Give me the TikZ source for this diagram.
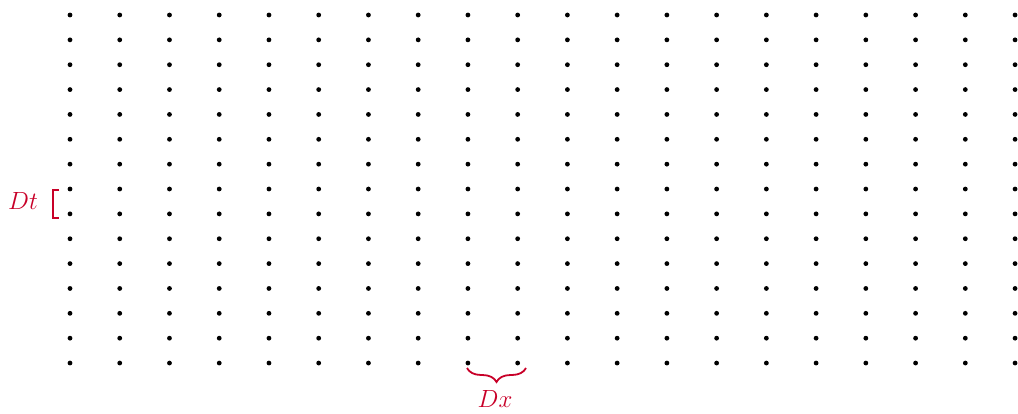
\documentclass[tikz,border=0pt]{standalone}
\usetikzlibrary{decorations.pathreplacing}
\definecolor{labred}{RGB}{200,0,40}
\tikzset{
  griddot/.style={circle,fill=black,inner sep=0pt,minimum size=4.8pt},
  lab/.style={text=labred,font=\fontsize{28}{30}\selectfont,inner sep=0pt},
  bracepath/.style={draw=labred,line width=1.8pt,decorate,decoration={brace,amplitude=14pt}},
  brackpath/.style={draw=labred,line width=1.8pt}
}
\begin{document}
\begin{tikzpicture}[x=1pt,y=-1pt]
\useasboundingbox (0,0) rectangle (1018,414);
\foreach \i in {0,...,19}{
  \foreach \j in {0,...,14}{
    \node[griddot] (d-\i-\j) at ({70+49.74*\i},{15+24.86*\j}) {};
  }
}
% Dt label and bracket
\node[lab] (dt) at (23,201) {$Dt$};
\coordinate (bt) at (59,190);
\coordinate (bb) at (59,218);
\draw[brackpath] (bt) -- (53,190) -- (53,218) -- (bb);
% Dx brace and label
\coordinate (brl) at (467,368);
\coordinate (brr) at (526,368);
\draw[bracepath] (brr) -- (brl);
\node[lab] (dx) at (495,399) {$Dx$};
\end{tikzpicture}
\end{document}
